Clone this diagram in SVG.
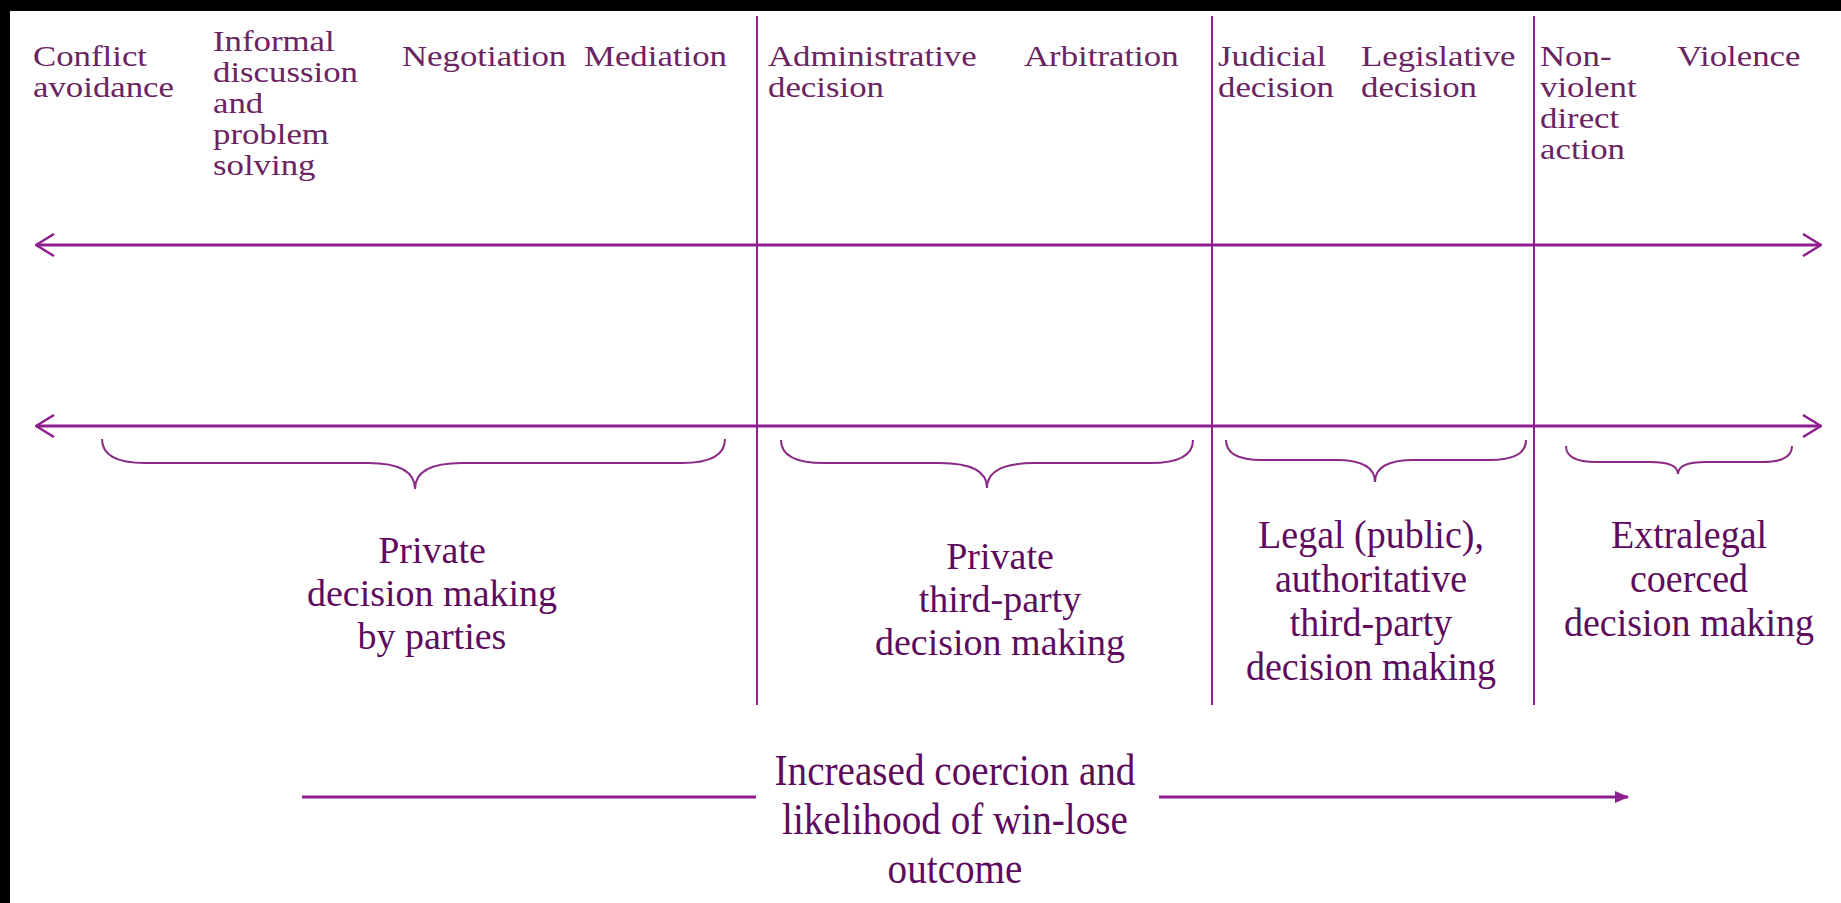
<svg xmlns="http://www.w3.org/2000/svg" width="1841" height="903" viewBox="0 0 1841 903">
<style>
.top{font-family:"Liberation Serif","Times New Roman",serif;font-size:29px;fill:#6b2462}
.bot{font-family:"Liberation Serif","Times New Roman",serif;font-size:38px;fill:#5e0b5e;text-anchor:middle}
.b39{font-size:39px}
.ax-t{font-size:44px}
.ln{stroke:#8e1f8e;fill:none}
.ax{stroke-width:3}
.dv{stroke-width:2}
.br{stroke-width:2;stroke:#8a2a86}
</style>
<defs>
<marker id="open" viewBox="0 0 20 24" refX="19" refY="12" markerWidth="20" markerHeight="24" markerUnits="userSpaceOnUse" orient="auto-start-reverse">
<path d="M1,1 L19,12 L1,23" fill="none" stroke="#8e1f8e" stroke-width="2.5"/>
</marker>
<marker id="solid" viewBox="0 0 14 14" refX="13" refY="7" markerWidth="14" markerHeight="14" markerUnits="userSpaceOnUse" orient="auto">
<path d="M0,1 L14,7 L0,13 Z" fill="#8e1f8e"/>
</marker>
</defs>
<rect x="0" y="0" width="1841" height="903" fill="#000"/>
<rect x="10" y="11" width="1831" height="892" fill="#fff"/>

<g id="dividers" class="ln dv">
<line x1="757" y1="16" x2="757" y2="705"/>
<line x1="1212" y1="16" x2="1212" y2="705"/>
<line x1="1534" y1="16" x2="1534" y2="705"/>
</g>

<g id="connectors" class="ln ax">
<line x1="36" y1="245" x2="1821" y2="245" marker-start="url(#open)" marker-end="url(#open)"/>
<line x1="36" y1="426" x2="1821" y2="426" marker-start="url(#open)" marker-end="url(#open)"/>
<line x1="302" y1="797" x2="756" y2="797"/>
<line x1="1159" y1="797" x2="1628" y2="797" marker-end="url(#solid)"/>
</g>

<g id="braces" class="ln br">
<path d="M102,439 Q102,463 145,463 L368,463 Q415,463 415,489 Q415,463 462,463 L682,463 Q725,463 725,439"/>
<path d="M781,440 Q781,463 824,463 L940,463 Q987,463 987,488 Q987,463 1034,463 L1150,463 Q1193,463 1193,440"/>
<path d="M1226,440 Q1226,460 1262,460 L1336,460 Q1375,460 1375,482 Q1375,460 1414,460 L1490,460 Q1526,460 1526,440"/>
<path d="M1566,446 Q1566,462 1596,462 L1650,462 Q1678,462 1678,474 Q1678,462 1706,462 L1762,462 Q1792,462 1792,446"/>
</g>

<g id="conflict-avoidance" transform="translate(33,0) scale(1.2,1)"><text class="top" x="0" y="66">Conflict</text><text class="top" x="0" y="97">avoidance</text></g>
<g id="informal-discussion" transform="translate(213,0) scale(1.2,1)"><text class="top" x="0" y="51">Informal</text><text class="top" x="0" y="82">discussion</text><text class="top" x="0" y="113">and</text><text class="top" x="0" y="144">problem</text><text class="top" x="0" y="175">solving</text></g>
<g id="negotiation" transform="translate(402,0) scale(1.2,1)"><text class="top" x="0" y="66">Negotiation</text></g>
<g id="mediation" transform="translate(584,0) scale(1.2,1)"><text class="top" x="0" y="66">Mediation</text></g>
<g id="administrative-decision" transform="translate(768,0) scale(1.2,1)"><text class="top" x="0" y="66">Administrative</text><text class="top" x="0" y="97">decision</text></g>
<g id="arbitration" transform="translate(1024,0) scale(1.2,1)"><text class="top" x="0" y="66">Arbitration</text></g>
<g id="judicial-decision" transform="translate(1218,0) scale(1.2,1)"><text class="top" x="0" y="66">Judicial</text><text class="top" x="0" y="97">decision</text></g>
<g id="legislative-decision" transform="translate(1361,0) scale(1.2,1)"><text class="top" x="0" y="66">Legislative</text><text class="top" x="0" y="97">decision</text></g>
<g id="nonviolent-direct-action" transform="translate(1540,0) scale(1.2,1)"><text class="top" x="0" y="66">Non-</text><text class="top" x="0" y="97">violent</text><text class="top" x="0" y="128">direct</text><text class="top" x="0" y="159">action</text></g>
<g id="violence" transform="translate(1677,0) scale(1.2,1)"><text class="top" x="0" y="66">Violence</text></g>

<g id="private-by-parties"><text class="bot" x="432" y="563">Private</text><text class="bot" x="432" y="606">decision making</text><text class="bot" x="432" y="649">by parties</text></g>
<g id="private-third-party"><text class="bot" x="1000" y="569">Private</text><text class="bot" x="1000" y="612">third-party</text><text class="bot" x="1000" y="655">decision making</text></g>
<g id="legal-authoritative" transform="translate(1371,0) scale(0.975,1)"><text class="bot b39" x="0" y="548">Legal (public),</text><text class="bot b39" x="0" y="592">authoritative</text><text class="bot b39" x="0" y="636">third-party</text><text class="bot b39" x="0" y="680">decision making</text></g>
<g id="extralegal-coerced" transform="translate(1689,0) scale(0.975,1)"><text class="bot b39" x="0" y="548">Extralegal</text><text class="bot b39" x="0" y="592">coerced</text><text class="bot b39" x="0" y="636">decision making</text></g>
<g id="coercion-axis" transform="translate(955,0) scale(0.89,1)"><text class="bot ax-t" x="0" y="785">Increased coercion and</text><text class="bot ax-t" x="0" y="834">likelihood of win-lose</text><text class="bot ax-t" x="0" y="883">outcome</text></g>
</svg>
